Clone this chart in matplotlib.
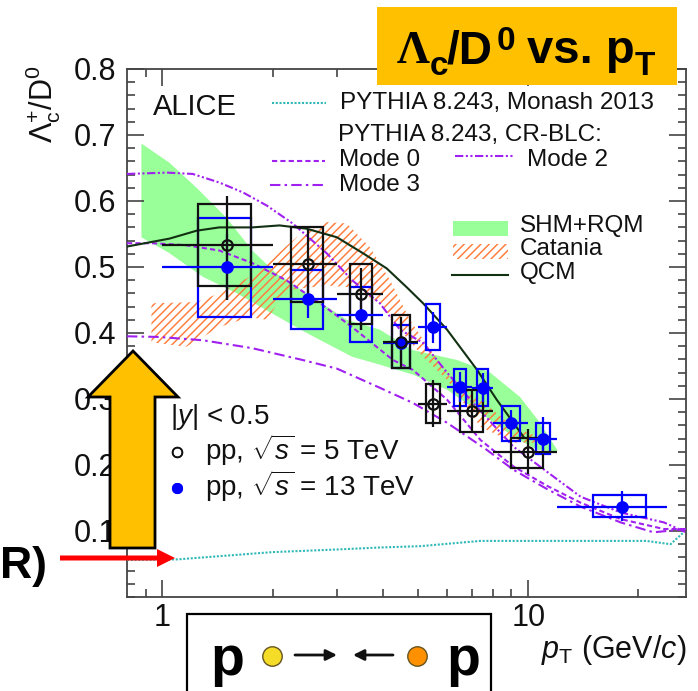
import numpy as np
import matplotlib
matplotlib.use('Agg')
import matplotlib.pyplot as plt
from matplotlib.patches import Rectangle, Polygon, FancyArrowPatch
from matplotlib.ticker import FixedLocator, NullFormatter

plt.rcParams['font.family'] = ['Liberation Sans', 'DejaVu Sans']
plt.rcParams['mathtext.fontset'] = 'custom'
plt.rcParams['mathtext.rm'] = 'Liberation Sans'
plt.rcParams['mathtext.it'] = 'Liberation Sans:italic'
plt.rcParams['mathtext.bf'] = 'Liberation Sans:bold'
plt.rcParams['hatch.linewidth'] = 1.1
plt.rcParams['hatch.color'] = '#ff8040'

# pp 5 TeV
pt5 = [1.5, 2.5, 3.5, 4.5, 5.5, 7, 10]
pt5_lo = [1, 2, 3, 4, 5, 6, 8]
pt5_hi = [2, 3, 4, 5, 6, 8, 12]
ratio5 = [.533, .504, .459, .386, .293, .282, .219]
stat5_hi = [.608, .558, .498, .424, .329, .312, .254]
stat5_lo = [.45, .45, .405, .347, .257, .251, .186]
box5_xlo = [1.25, 2.25, 3.25, 4.25, 5.25, 6.5, 9]
box5_xhi = [1.75, 2.75, 3.75, 4.75, 5.75, 7.5, 11]
box5_hi = [.595, .56, .504, .427, .323, .313, .241]
box5_lo = [.471, .447, .414, .347, .263, .25, .196]

# pp 13 TeV
pt13 = [1.5, 2.5, 3.5, 4.5, 5.5, 6.5, 7.5, 9, 11, 18]
pt13_lo = [1, 2, 3, 4, 5, 6, 7, 8, 10, 12]
pt13_hi = [2, 3, 4, 5, 6, 7, 8, 10, 12, 24]
ratio13 = [.5, .451, .427, .385, .409, .318, .317, .264, .24, .137]
stat13_hi = [.55, .49, .455, .415, .432, .341, .34, .284, .273, .16]
stat13_lo = [.45, .423, .405, .355, .385, .295, .295, .243, .216, .115]
box13_xlo = [1.25, 2.25, 3.25, 4.25, 5.25, 6.25, 7.25, 8.5, 10.5, 15]
box13_xhi = [1.75, 2.75, 3.75, 4.75, 5.75, 6.75, 7.75, 9.5, 11.5, 21]
box13_hi = [.574, .495, .469, .412, .444, .345, .345, .29, .264, .154]
box13_lo = [.424, .406, .386, .347, .374, .29, .29, .237, .217, .121]

# model bands
shm_top_x = [.876, 1.045, 1.24, 1.5, 1.76, 2.05, 2.48, 3.19, 3.93, 4.84, 6.4, 7.87, 9.5, 10.6, 12]
shm_top_y = [.687, .658, .62, .574, .525, .49, .46, .42, .405, .374, .359, .34, .303, .269, .223]
shm_bot_x = [.876, 1.045, 1.29, 1.6, 1.96, 2.48, 3.3, 3.93, 4.84, 6, 7.4, 9.1, 10.6, 12]
shm_bot_y = [.545, .521, .485, .46, .432, .4, .364, .352, .337, .314, .279, .243, .223, .22]

cat_top_x = [.933, 1.24, 1.43, 1.73, 1.96, 2.33, 2.81, 3.19, 3.69, 4.19, 4.75, 5.16, 6.1, 7.4, 9.1, 10.6]
cat_top_y = [.445, .447, .46, .485, .51, .545, .568, .566, .53, .48, .42, .39, .334, .299, .258, .243]
cat_bot_x = [.933, 1.16, 1.43, 1.73, 1.93, 2.18, 2.81, 3.3, 3.93, 4.46, 5.16, 6, 7.4, 9.1, 10.6]
cat_bot_y = [.386, .379, .409, .424, .42, .465, .472, .469, .445, .405, .364, .329, .258, .234, .234]

# model curves
qcm_x = [.8, 1.045, 1.24, 1.43, 1.76, 2.09, 2.48, 3, 3.53, 4.1, 4.66, 5.16, 6, 7.25, 8.2, 9.7]
qcm_y = [.531, .543, .555, .56, .56, .563, .558, .545, .521, .498, .469, .445, .405, .344, .299, .243]
mode2_x = [.8, 1.03, 1.21, 1.43, 1.66, 1.93, 2.27, 2.81, 3.3, 3.93, 4.46, 5.16, 6, 7.07, 9.1, 11.3, 13.9, 17.9, 23.5, 27]
mode2_y = [.641, .643, .641, .628, .613, .593, .566, .521, .48, .445, .405, .385, .34, .294, .228, .189, .152, .128, .113, .098]
mode0_x = [.8, .94, 1.16, 1.43, 1.76, 2.18, 2.7, 3.3, 4.27, 4.84, 6, 7.4, 9.1, 11.3, 13.9, 17.9, 23.5, 27]
mode0_y = [.536, .536, .533, .525, .506, .48, .445, .409, .359, .344, .299, .238, .198, .168, .143, .118, .103, .103]
mode3_x = [.8, .98, 1.29, 1.76, 2.42, 3, 3.93, 4.84, 6, 7.7, 9.1, 11.3, 13.9, 17.9, 22, 27]
mode3_y = [.395, .394, .389, .377, .359, .346, .317, .294, .264, .223, .193, .163, .137, .113, .098, .103]
monash_x = [.8, 1.1, 2, 3, 3.93, 5.06, 7.4, 13.9, 21, 24.5, 26.6]
monash_y = [.056, .057, .068, .072, .075, .077, .085, .085, .085, .08, .098]

W, H = 698, 691
PURPLE = '#a020f0'
TEAL = '#30b8b8'
ORANGE = '#ffc000'

fig = plt.figure(figsize=(W / 100, H / 100), dpi=100)
ax = fig.add_axes([127 / W, 1 - 597 / H, (686 - 127) / W, (597 - 69) / H])


def fx(px):
    return px / W


def fy(py):
    return 1 - py / H


def label(px, py, txt, size=17.5, ha='left', va='center', **kw):
    fig.text(fx(px), fy(py), txt, fontsize=size, ha=ha, va=va, color=kw.pop('color', '#111111'), **kw)


def key(x0, x1, py, **kw):
    fig.add_artist(plt.Line2D([fx(x0), fx(x1)], [fy(py), fy(py)], **kw))


def boxes(xlo, xhi, lo, hi, color):
    for a, b, c, d in zip(xlo, xhi, lo, hi):
        ax.add_patch(Rectangle((a, c), b - a, d - c, fill=False, ec=color, lw=1.6, zorder=5))


def points(x, xl, xh, y, yl, yh, color, face):
    x, xl, xh = np.array(x), np.array(xl), np.array(xh)
    y, yl, yh = np.array(y), np.array(yl), np.array(yh)
    ax.errorbar(x, y, xerr=[x - xl, xh - x], yerr=[y - yl, yh - y], fmt='o', color=color,
                mfc=face, mec=color, mew=1.6, ms=7.5, elinewidth=1.6, capsize=0, zorder=6)


# bands
ax.fill(shm_top_x + shm_bot_x[::-1], shm_top_y + shm_bot_y[::-1], color='#99ff99', lw=0, zorder=1)
ax.fill(cat_top_x + cat_bot_x[::-1], cat_top_y + cat_bot_y[::-1], facecolor='none',
        edgecolor='#ff8040', hatch='////', lw=0, zorder=2)

# curves
style_m0 = dict(color=PURPLE, lw=1.5, ls=(0, (2.5, 1.5)))
style_m2 = dict(color=PURPLE, lw=1.5, ls=(0, (4, 1.2, 1, 1.2, 1, 1.2)))
style_m3 = dict(color=PURPLE, lw=1.5, ls=(0, (5, 2, 1.2, 2)))
style_mon = dict(color=TEAL, lw=1.5, ls=(0, (1, 0.8)))
style_qcm = dict(color='#123012', lw=1.5)
ax.plot(mode0_x, mode0_y, zorder=3, **style_m0)
ax.plot(mode2_x, mode2_y, zorder=3, **style_m2)
ax.plot(mode3_x, mode3_y, zorder=3, **style_m3)
ax.plot(monash_x, monash_y, zorder=3, **style_mon)
ax.plot(qcm_x, qcm_y, zorder=4, **style_qcm)

# data
boxes(box13_xlo, box13_xhi, box13_lo, box13_hi, '#0000ff')
points(pt13, pt13_lo, pt13_hi, ratio13, stat13_lo, stat13_hi, '#0000ff', '#0000ff')
boxes(box5_xlo, box5_xhi, box5_lo, box5_hi, '#111111')
points(pt5, pt5_lo, pt5_hi, ratio5, stat5_lo, stat5_hi, '#111111', 'none')

# axes
ax.set_xscale('log')
ax.set_xlim(.8, 27)
ax.set_ylim(0, .8)
ax.xaxis.set_major_locator(FixedLocator([1, 10]))
ax.xaxis.set_minor_locator(FixedLocator([.9, 2, 3, 4, 5, 6, 7, 8, 9, 20]))
ax.xaxis.set_minor_formatter(NullFormatter())
ax.set_xticklabels(['1', '10'])
ax.set_yticks(np.arange(.1, .81, .1))
ax.set_yticks(np.arange(0, .8, .02), minor=True)
ax.set_yticklabels(['0.1', '0.2', '0.3', '0.4', '0.5', '0.6', '0.7', '0.8'])
ax.tick_params(which='major', direction='in', top=True, right=True, length=12, width=1.2,
               color='#444444', labelsize=22, labelcolor='#111111', pad=8)
ax.tick_params(axis='x', which='major', pad=4)
ax.tick_params(which='minor', direction='in', top=True, right=True, length=6, width=1.2, color='#444444')
for s in ax.spines.values():
    s.set_linewidth(1.3)
    s.set_color('#444444')

label(43, 143, r'$\mathregular{\Lambda_c^{+}/D^{0}}$', size=22, rotation=90, ha='center', va='bottom')
label(686, 650, r'$\mathit{p}_{\mathregular{T}}$ (GeV/$\mathit{c}$)', size=22, ha='right')
label(153, 107, 'ALICE', size=21)

# legend
key(272, 326, 103, **style_mon)
label(340, 103, 'PYTHIA 8.243, Monash 2013')
label(338, 135, 'PYTHIA 8.243, CR-BLC:')
key(272, 325, 161, **style_m0)
label(339, 160, 'Mode 0')
key(455, 513, 156, **style_m2)
label(527, 160, 'Mode 2')
key(270, 325, 185, **style_m3)
label(339, 185, 'Mode 3')
fig.add_artist(Rectangle((fx(453), fy(236)), 55 / W, 15 / H, transform=fig.transFigure, fc='#99ff99', lw=0))
fig.add_artist(Rectangle((fx(453), fy(259)), 55 / W, 15 / H, transform=fig.transFigure, fc='none',
                         ec='#ff8040', hatch='////', lw=0))
key(452, 508, 275, **style_qcm)
label(520, 226, 'SHM+RQM')
label(520, 249, 'Catania')
label(520, 273, 'QCM')
label(170, 417, r'$|\mathit{y}|$ < 0.5', size=20)
key(177, 177.1, 452, marker='o', mfc='none', mec='#111111', ms=7, mew=1.2)
key(177, 177.1, 488, marker='o', mfc='#0000ff', mec='#0000ff', ms=7)
label(205, 450, r'pp, $\sqrt{\mathit{s}}$ = 5 TeV', size=20)
label(205, 486, r'pp, $\sqrt{\mathit{s}}$ = 13 TeV', size=20)

# slide overlays
fig.add_artist(Rectangle((fx(377), fy(85)), 300 / W, 78 / H, transform=fig.transFigure, fc=ORANGE, lw=0, zorder=10))
for px, py, txt, size, fam in [(397, 63, '\u039b', 33, 'Liberation Serif'), (430, 75, 'c', 24, 'Liberation Sans'),
                               (447, 63, '/D', 33, 'Liberation Sans'), (497, 50, '0', 24, 'Liberation Sans'),
                               (527, 63, 'vs. p', 34, 'Liberation Sans'), (635, 75, 'T', 24, 'Liberation Sans')]:
    fig.text(fx(px), fy(py), txt, fontsize=size, family=fam, fontweight='bold', ha='left', va='baseline',
             color='black', zorder=11)

arrow_x = [133, 178, 155, 155, 110, 110, 88]
arrow_y = [351, 397, 397, 548, 548, 397, 397]
fig.add_artist(Polygon(np.column_stack([[fx(v) for v in arrow_x], [fy(v) for v in arrow_y]]),
                       transform=fig.transFigure, fc=ORANGE, ec='black', lw=2, zorder=10))
fig.add_artist(Polygon([(fx(60), fy(555.5)), (fx(157), fy(555.5)), (fx(157), fy(549)), (fx(175), fy(558)),
                        (fx(157), fy(567)), (fx(157), fy(560.5)), (fx(60), fy(560.5))],
                       transform=fig.transFigure, fc='#ff0000', lw=0, zorder=11))
fig.text(fx(47), fy(578), 'R)', fontsize=32, fontweight='bold', ha='right', va='baseline', color='black', zorder=11)

fig.add_artist(Rectangle((fx(187), fy(700)), 304 / W, 86 / H, transform=fig.transFigure, fc='white', ec='black',
                         lw=1.6, zorder=10))
for px in [227, 463]:
    fig.text(fx(px), fy(675), 'p', fontsize=40, fontweight='bold', ha='center', va='baseline', color='black', zorder=11)
for px, col in [(272, '#f5dc28'), (417, '#ff9000')]:
    fig.add_artist(plt.Line2D([fx(px)], [fy(656)], marker='o', ms=14, mfc=col, mec='#665522', mew=1, zorder=11))
for a, b in [(295, 337), (393, 353)]:
    fig.add_artist(FancyArrowPatch((fx(a), fy(655)), (fx(b), fy(655)), transform=fig.transFigure,
                                   arrowstyle='-|>', mutation_scale=16, lw=2, color='#111111',
                                   shrinkA=0, shrinkB=0, zorder=11))

fig.savefig('out.png', dpi=100)
